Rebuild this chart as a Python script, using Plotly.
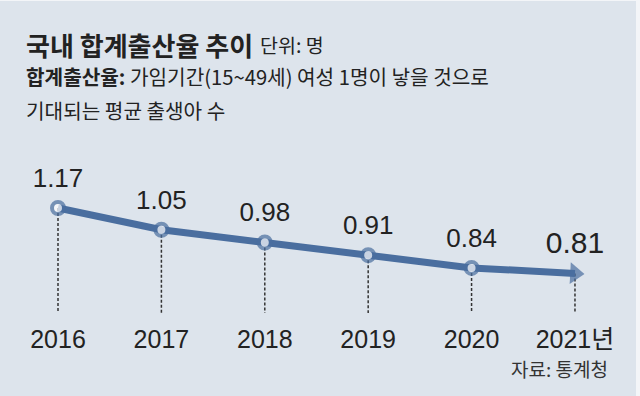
import plotly.graph_objects as go

# ---- data ----
years = [2016, 2017, 2018, 2019, 2020, 2021]
rates = [1.17, 1.05, 0.98, 0.91, 0.84, 0.81]
rate_labels = ["1.17", "1.05", "0.98", "0.91", "0.84", "0.81"]
year_labels = ["2016", "2017", "2018", "2019", "2020", "2021년"]

title_text = "국내 합계출산율 추이"
unit_text = "단위: 명"
desc_line1 = "<b>합계출산율:</b> 가임기간(15~49세) 여성 1명이 낳을 것으로"
desc_line2 = "기대되는 평균 출생아 수"
source_text = "자료: 통계청"

# ---- style ----
BG = "#dde4ec"
BLUE = "#4a6e9f"
TXT = "#222222"
NUM_FONT = "Liberation Sans, Arial, Noto Sans CJK KR, sans-serif"
KR_FONT = "Noto Sans CJK KR, sans-serif"

W, H = 640, 396
M_T, M_B = 150, 83
x_range = [2015.439, 2021.629]
y_range = [0.592, 1.489]

fig = go.Figure()

# dotted drop lines from each point to the axis
dx, dy = [], []
for yr, v in zip(years, rates):
    dx += [yr, yr, None]
    dy += [v, y_range[0], None]
fig.add_trace(go.Scatter(
    x=dx, y=dy, mode="lines",
    line=dict(color="#333333", width=1.5, dash="3px,2px"),
    hoverinfo="skip", showlegend=False,
))

# main line
n = len(years)
fig.add_trace(go.Scatter(
    x=years, y=rates, mode="lines+markers",
    line=dict(color=BLUE, width=7),
    marker=dict(
        symbol=["circle"] * (n - 1) + ["triangle-right"],
        size=[12] * (n - 1) + [19],
        color=["white"] * (n - 1) + [BLUE],
        angle=[0] * (n - 1) + [3],
        line=dict(color=BLUE, width=[4] * (n - 1) + [0]),
    ),
    hoverinfo="skip",
    showlegend=False,
))

# value labels (invisible markers only set the label stand-off)
fig.add_trace(go.Scatter(
    x=years, y=rates, mode="markers+text",
    marker=dict(size=[22] * (n - 1) + [19], opacity=0),
    text=rate_labels,
    textposition="top center",
    textfont=dict(family=NUM_FONT, size=[26] * (n - 1) + [30], color=TXT),
    cliponaxis=False,
    hoverinfo="skip",
    showlegend=False,
))

def py(pix):
    return (H - M_B - pix) / (H - M_T - M_B)

ann = [
    dict(text="<b>" + title_text + "</b>", x=24 / W, y=py(44), font=dict(size=26, family=KR_FONT, color=TXT)),
    dict(text=unit_text, x=258 / W, y=py(45), font=dict(size=19.5, family=KR_FONT, color=TXT)),
    dict(text=desc_line1, x=24 / W, y=py(77), font=dict(size=20.2, family=KR_FONT, color=TXT)),
    dict(text=desc_line2, x=24 / W, y=py(110), font=dict(size=20.2, family=KR_FONT, color=TXT)),
]
for a in ann:
    a.update(xref="paper", yref="paper", xanchor="left", yanchor="middle", showarrow=False)
    fig.add_annotation(**a)
fig.add_annotation(text=source_text, xref="paper", yref="paper", x=610 / W, y=py(368),
                   xanchor="right", yanchor="middle", showarrow=False,
                   font=dict(size=19, family=KR_FONT, color="#333333"))

# light frame edges of the panel
fig.add_shape(type="rect", xref="paper", yref="paper", x0=636 / W, x1=1, y0=py(H), y1=py(0),
              fillcolor="#f3f5f8", line=dict(width=0), layer="below")
fig.add_shape(type="rect", xref="paper", yref="paper", x0=0, x1=1, y0=py(1), y1=py(0),
              fillcolor="#f3f5f8", line=dict(width=0), layer="below")

fig.update_layout(
    width=W, height=H,
    margin=dict(l=0, r=0, t=M_T, b=M_B, pad=0),
    paper_bgcolor=BG, plot_bgcolor=BG,
    hovermode=False,
    xaxis=dict(range=x_range, showgrid=False, zeroline=False, showline=False,
               tickvals=years, ticktext=year_labels, ticks="outside", ticklen=4,
               tickcolor="rgba(0,0,0,0)",
               tickfont=dict(family=NUM_FONT, size=25, color=TXT), fixedrange=True),
    yaxis=dict(range=y_range, visible=False, fixedrange=True),
)

fig.write_html("out.html", config={"displayModeBar": False},
               post_script="document.body.style.margin='0';")
